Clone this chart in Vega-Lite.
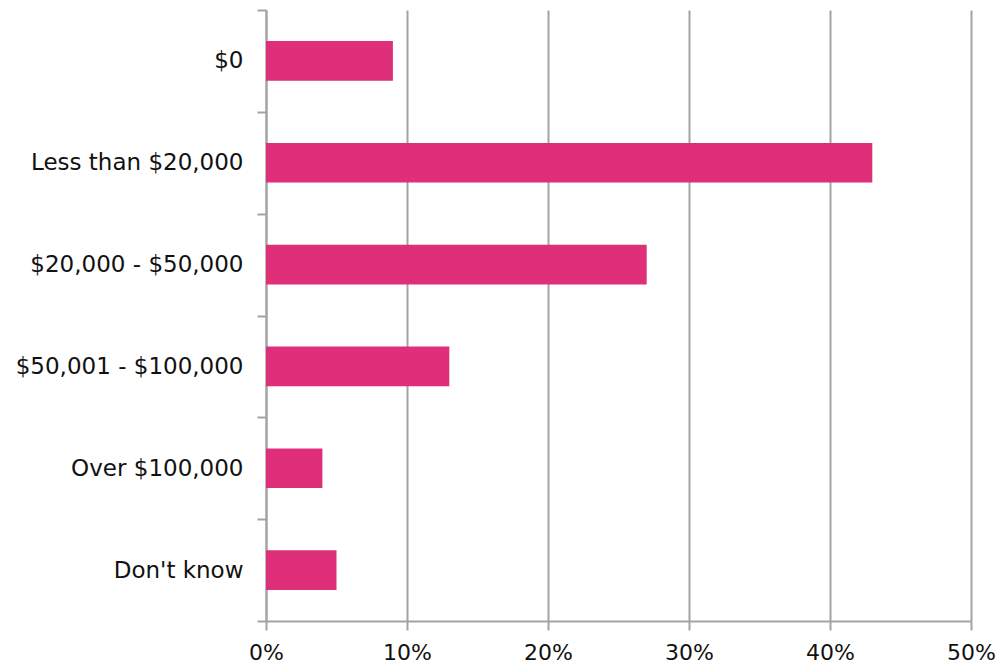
{
  "$schema": "https://vega.github.io/schema/vega-lite/v6.json",
  "autosize": {"type": "none"},
  "padding": {"left": 266, "top": 10, "right": 29, "bottom": 44},
  "width": 705,
  "height": 611,
  "background": "white",
  "data": {
    "values": [
      {"category": "$0", "share": 0.09},
      {"category": "Less than $20,000", "share": 0.43},
      {"category": "$20,000 - $50,000", "share": 0.27},
      {"category": "$50,001 - $100,000", "share": 0.13},
      {"category": "Over $100,000", "share": 0.04},
      {"category": "Don't know", "share": 0.05}
    ]
  },
  "mark": {"type": "bar", "color": "#DE2F78", "height": {"band": 0.39}},
  "encoding": {
    "y": {
      "field": "category",
      "type": "nominal",
      "sort": null,
      "scale": {"paddingInner": 0, "paddingOuter": 0},
      "axis": {
        "title": null,
        "tickBand": "extent",
        "tickSize": 9,
        "tickWidth": 2,
        "tickColor": "#A3A3A3",
        "domainColor": "#A3A3A3",
        "domainWidth": 2,
        "labelPadding": 14,
        "labelLimit": 400,
        "labelFont": "DejaVu Sans",
        "labelFontSize": 23,
        "labelColor": "#111111",
        "grid": false
      }
    },
    "x": {
      "field": "share",
      "type": "quantitative",
      "scale": {"domain": [0, 0.5], "nice": false},
      "axis": {
        "title": null,
        "format": ".0%",
        "values": [0, 0.1, 0.2, 0.3, 0.4, 0.5],
        "tickSize": 9,
        "tickWidth": 2,
        "tickColor": "#A3A3A3",
        "domainColor": "#A3A3A3",
        "domainWidth": 2,
        "grid": true,
        "gridColor": "#A3A3A3",
        "gridWidth": 2,
        "gridOpacity": 1,
        "labelPadding": 12,
        "labelFont": "DejaVu Sans",
        "labelFontSize": 22,
        "labelColor": "#111111",
        "labelFlush": false
      }
    }
  },
  "config": {"view": {"stroke": null}}
}
